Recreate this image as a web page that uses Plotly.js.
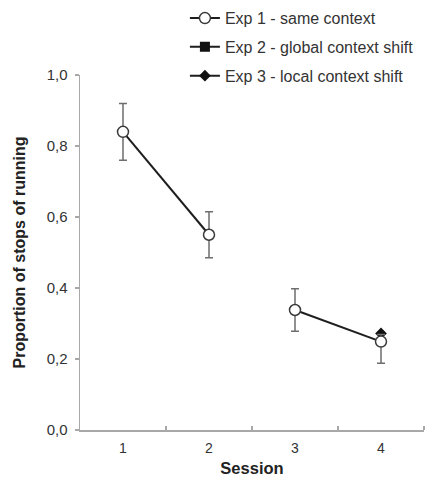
<!DOCTYPE html>
<html>
<head>
<meta charset="utf-8">
<script src="https://cdn.plot.ly/plotly-3.0.1.min.js"></script>
<style>html,body{margin:0;padding:0;background:#fff;}#chart{width:425px;height:477px;}</style>
</head>
<body>
<div id="chart"></div>
<script>
// Data
const sessions = [1, 2, 3, 4];
const sessionLabels = ["1", "2", "3", "4"];
const exp1Mean = [0.84, 0.55, 0.338, 0.249];
const exp1ErrPlus = [0.08, 0.065, 0.06, 0.02];
const exp1ErrMinus = [0.08, 0.065, 0.06, 0.061];
const exp2Mean = [null, null, null, null];
const exp3Mean = [null, null, null, 0.272];
const yTicks = [0, 0.2, 0.4, 0.6, 0.8, 1.0];
const sessionBoundaries = [1.5, 2.5, 3.5, 4.5];

const lineCol = '#1e1e1e';
const errCol = '#6e6e6e';

function seg(arr, a, b) { return arr.slice(a, b); }

const traces = [
  {
    name: 'Exp 2 - global context shift', x: sessions, y: exp2Mean,
    mode: 'lines+markers', legendgroup: 'g2', legendrank: 2,
    line: {color: lineCol, width: 2},
    marker: {symbol: 'square', size: 10, color: '#111'},
    hoverinfo: 'skip'
  },
  {
    name: 'Exp 3 - local context shift', x: sessions, y: exp3Mean,
    mode: 'lines+markers', legendgroup: 'g3', legendrank: 3,
    line: {color: lineCol, width: 2},
    marker: {symbol: 'diamond', size: 9, color: '#111'},
    hoverinfo: 'skip'
  },
  {
    name: 'Exp 1 - same context', x: seg(sessions, 0, 2), y: seg(exp1Mean, 0, 2),
    mode: 'lines+markers', legendgroup: 'g1', legendrank: 1,
    line: {color: lineCol, width: 2},
    marker: {symbol: 'circle', size: 11, color: '#fff', line: {color: '#3a3a3a', width: 1.5}},
    error_y: {type: 'data', array: seg(exp1ErrPlus, 0, 2), arrayminus: seg(exp1ErrMinus, 0, 2),
              symmetric: false, color: errCol, thickness: 1.5, width: 4},
    hoverinfo: 'skip'
  },
  {
    name: 'Exp 1 - same context', x: seg(sessions, 2, 4), y: seg(exp1Mean, 2, 4),
    mode: 'lines+markers', legendgroup: 'g1', showlegend: false,
    line: {color: lineCol, width: 2},
    marker: {symbol: 'circle', size: 11, color: '#fff', line: {color: '#3a3a3a', width: 1.5}},
    error_y: {type: 'data', array: seg(exp1ErrPlus, 2, 4), arrayminus: seg(exp1ErrMinus, 2, 4),
              symmetric: false, color: errCol, thickness: 1.5, width: 4},
    hoverinfo: 'skip'
  }
];

const layout = {
  width: 425, height: 477,
  margin: {l: 80, r: 1, t: 72, b: 47},
  paper_bgcolor: '#fff', plot_bgcolor: '#fff',
  separators: ', ',
  font: {family: 'Liberation Sans, Arial, sans-serif', color: '#333'},
  showlegend: true,
  legend: {
    x: 0.305, y: 1.208, xanchor: 'left', yanchor: 'top',
    font: {size: 16, color: '#333'},
    bgcolor: 'rgba(0,0,0,0)', borderwidth: 0,
    traceorder: 'grouped', tracegroupgap: 5, itemwidth: 30
  },
  xaxis: {
    range: [0.5, 4.5], tickmode: 'array', tickvals: sessions, ticktext: sessionLabels,
    ticks: '', showline: true, linecolor: '#a8a8a8', linewidth: 1.5,
    showgrid: false, zeroline: false, fixedrange: true,
    tickfont: {size: 14, color: '#333'}, ticklabelstandoff: 5,
    minor: {tickmode: 'array', tickvals: sessionBoundaries, ticks: 'inside', ticklen: 4, tickcolor: '#a8a8a8', tickwidth: 1.5, showgrid: false},
    title: {text: 'Session', font: {size: 16.5, color: '#222', weight: 'bold'}, standoff: 8},
    automargin: false
  },
  yaxis: {
    range: [0, 1], tickmode: 'array', tickvals: yTicks, tickformat: '.1f',
    ticks: 'outside', ticklen: 4, tickcolor: '#a8a8a8', tickwidth: 1.5,
    showline: true, linecolor: '#a8a8a8', linewidth: 1.5,
    showgrid: false, zeroline: false, fixedrange: true,
    tickfont: {size: 15, color: '#333'}, ticklabelstandoff: 4,
    title: {text: '\u00a0\u00a0\u00a0\u00a0\u00a0\u00a0Proportion of stops of running', font: {size: 16, color: '#222', weight: 'bold'}, standoff: 17},
    automargin: false
  }
};

Plotly.newPlot('chart', traces, layout, {displayModeBar: false, staticPlot: true});
</script>
</body>
</html>
